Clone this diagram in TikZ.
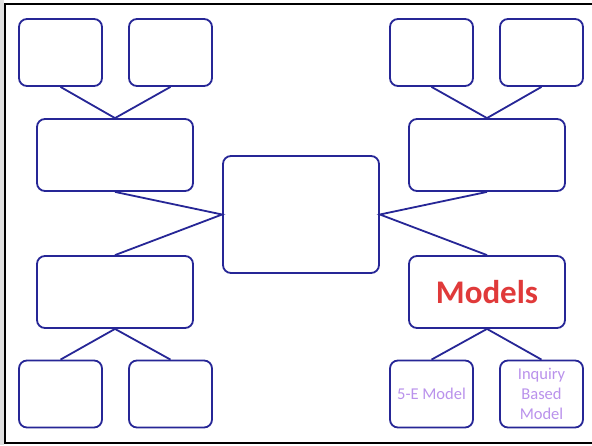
\documentclass[tikz,border=0pt]{standalone}
\usepackage{fontspec}
\setmainfont{Carlito}
\definecolor{boxblue}{RGB}{38,38,150}
\definecolor{modelred}{RGB}{224,58,58}
\definecolor{lavender}{RGB}{186,146,236}
\begin{document}
\begin{tikzpicture}[x=1pt,y=-1pt,
  box/.style={draw=boxblue,line width=1.8pt,rounded corners=8pt,fill=white,inner sep=0pt,align=center},
  small/.style={box,minimum width=83pt,minimum height=67pt},
  wide/.style={box,minimum width=156pt,minimum height=72pt},
  link/.style={draw=boxblue,line width=1.8pt},
  sub/.style={text=lavender,font=\fontsize{16.5}{20}\selectfont}]
\useasboundingbox (0,0) rectangle (592,445);
\fill[white] (0,0) rectangle (592,445);
\fill[black!12] (0,0) rectangle (4,445);
% outer frame
\draw[black,line width=2.4pt] (600,4) -- (5,4) -- (5,443) -- (600,443);

% left branch
\node[small] (tl1) at (60.5,52.5) {};
\node[small] (tl2) at (170.5,52.5) {};
\node[wide]  (lm)  at (115,155) {};
\node[wide]  (lb)  at (115,292) {};
\node[small] (bl1) at (60.5,394) {};
\node[small] (bl2) at (170.5,394) {};

% centre
\node[box,minimum width=156pt,minimum height=117pt] (c) at (301,214.5) {};

% right branch
\node[small] (tr1) at (431.5,52.5) {};
\node[small] (tr2) at (541.5,52.5) {};
\node[wide]  (rm)  at (487,155) {};
\node[wide,text=modelred,font=\bfseries\fontsize{33}{36}\selectfont] (models) at (487,292) {Models};
\node[small,sub] (fivee) at (431.5,394) {5-E Model};
\node[small,sub] (inq) at (541.5,394) {Inquiry\\Based\\Model};

% connectors
\draw[link] (tl1.south) -- (lm.north) -- (tl2.south);
\draw[link] (bl1.north) -- (lb.south) -- (bl2.north);
\draw[link] (lm.south) -- (c.west) -- (lb.north);
\draw[link] (tr1.south) -- (rm.north) -- (tr2.south);
\draw[link] (fivee.north) -- (models.south) -- (inq.north);
\draw[link] (rm.south) -- (c.east) -- (models.north);
\end{tikzpicture}
\end{document}
